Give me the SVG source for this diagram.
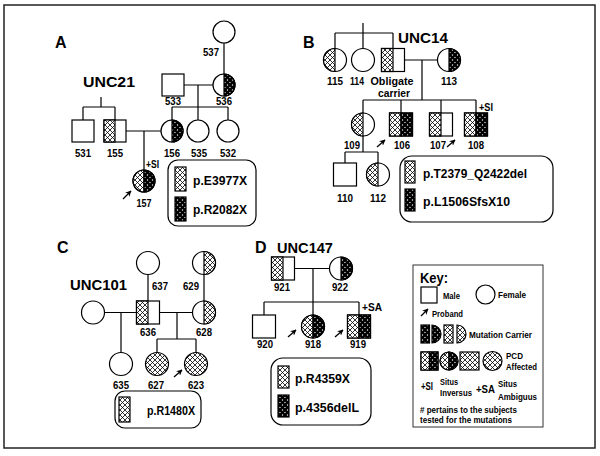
<svg xmlns="http://www.w3.org/2000/svg" width="600" height="456" viewBox="0 0 600 456">
<defs>
<pattern id="lt" width="5" height="5" patternUnits="userSpaceOnUse">
<rect width="5" height="5" fill="#fff"/>
<path d="M-1,-1L6,6M6,-1L-1,6" stroke="#000" stroke-width="0.8"/>
</pattern>
<pattern id="dk" width="5" height="5" patternUnits="userSpaceOnUse">
<rect width="5" height="5" fill="#fff"/>
<path d="M-1,-1L6,6M6,-1L-1,6" stroke="#000" stroke-width="2.3"/>
</pattern>
<marker id="ah" viewBox="0 0 10 10" refX="9" refY="5" markerWidth="6" markerHeight="6" orient="auto" markerUnits="userSpaceOnUse">
<path d="M0,0L10,5L0,10L3,5z" fill="#000"/>
</marker>
<style>
.ln{stroke:#000;stroke-width:1.2;fill:none}
.o{fill:#fff;stroke:#000;stroke-width:1.2}
.L{fill:url(#lt);stroke:#000;stroke-width:1.2}
.D{fill:url(#dk);stroke:#000;stroke-width:1.2}
.bx{fill:none;stroke:#000;stroke-width:1.2}
.ar{stroke:#000;stroke-width:1.3;fill:none;marker-end:url(#ah)}
.t{font-family:"Liberation Sans",Arial,Helvetica,sans-serif;font-weight:bold;fill:#000}
.n{font-size:11.5px;text-anchor:middle}
.pl{font-size:16px}
.fam{font-size:15px;text-anchor:middle}
.mut{font-size:13px}
.k{font-size:9px}
</style>
</defs>
<rect x="0" y="0" width="600" height="456" fill="#fff"/>
<rect x="4" y="5" width="591" height="443" fill="none" stroke="#222" stroke-width="1.5"/>

<!-- connectors -->
<g id="connectors" class="ln">
<!-- A -->
<path d="M224,43V74M184,85H213M198,85V107M172,107H228M172,107V120M198,107V120M228,107V120"/>
<path d="M101,97V107M83,107H115M83,107V120M115,107V120M126,131H161M144,131V170"/>
<!-- B -->
<path d="M363,23V33M335,33H393M335,33V48.5M363,33V48.5M393,33V48.5M404.5,60H437.5M422,60V100M363,100H476M363,100V113M401,100V113M441,100V113M476,100V113"/>
<path d="M363,136V152M345,152H378M345,152V163M378,152V163"/>
<!-- C -->
<path d="M148,274.5V301M104.5,312.5H136.5M121,312.5V352.5M204,274.5V301M159.5,312.5H192.5M177,312.5V339M157,339H196M157,339V352.5M196,339V352.5"/>
<!-- D -->
<path d="M294.5,268.5H329.5M313,268.5V315M264,302H359M264,302V315M359,302V315"/>
</g>

<!-- proband arrows -->
<g id="probands">
<path class="ar" d="M123,199L131,191"/>
<path class="ar" d="M377,147L385,140"/>
<path class="ar" d="M447,147L455,140"/>
<path class="ar" d="M174,377L182,370"/>
<path class="ar" d="M288,337L296,330"/>
<path class="ar" d="M335,337L343,330"/>
</g>

<!-- Panel A -->
<text class="t pl" x="55" y="48">A</text>
<text class="t fam" x="109" y="87" textLength="52" lengthAdjust="spacingAndGlyphs">UNC21</text>
<g id="n537"><circle class="o" cx="224" cy="32" r="11"/><text class="t n" x="211" y="56" textLength="16" lengthAdjust="spacingAndGlyphs">537</text></g>
<g id="n536"><circle class="o" cx="224" cy="85" r="11"/><path class="D" d="M224,74A11,11 0 0,1 224,96Z"/><text class="t n" x="224" y="105" textLength="16" lengthAdjust="spacingAndGlyphs">536</text></g>
<g id="n533"><rect class="o" x="162" y="74" width="22" height="22"/><text class="t n" x="173" y="105" textLength="16" lengthAdjust="spacingAndGlyphs">533</text></g>
<g id="n531"><rect class="o" x="72" y="120" width="22" height="22"/><text class="t n" x="83" y="157" textLength="16" lengthAdjust="spacingAndGlyphs">531</text></g>
<g id="n155"><rect class="o" x="104" y="120" width="22" height="22"/><rect class="L" x="104" y="120" width="11" height="22"/><text class="t n" x="115" y="157" textLength="16" lengthAdjust="spacingAndGlyphs">155</text></g>
<g id="n156"><circle class="o" cx="172" cy="131" r="11"/><path class="D" d="M172,120A11,11 0 0,1 172,142Z"/><text class="t n" x="172" y="157" textLength="16" lengthAdjust="spacingAndGlyphs">156</text></g>
<g id="n535"><circle class="o" cx="198" cy="131" r="11"/><text class="t n" x="199" y="157" textLength="16" lengthAdjust="spacingAndGlyphs">535</text></g>
<g id="n532"><circle class="o" cx="228" cy="131" r="11"/><text class="t n" x="228" y="157" textLength="16" lengthAdjust="spacingAndGlyphs">532</text></g>
<g id="n157"><circle class="o" cx="144" cy="181" r="11"/><path class="L" d="M144,170A11,11 0 0,0 144,192Z"/><path class="D" d="M144,170A11,11 0 0,1 144,192Z"/><text class="t n" x="144" y="207" textLength="15" lengthAdjust="spacingAndGlyphs">157</text><text class="t" x="146" y="168" font-size="11" textLength="13" lengthAdjust="spacingAndGlyphs">+SI</text></g>
<g id="legendA">
<rect class="bx" x="168" y="160" width="88" height="66" rx="10"/>
<rect class="L" x="175" y="167" width="11" height="24"/>
<rect class="D" x="175" y="197" width="11" height="24"/>
<text class="t mut" x="193" y="185" textLength="54" lengthAdjust="spacingAndGlyphs">p.E3977X</text>
<text class="t mut" x="193" y="214" textLength="54" lengthAdjust="spacingAndGlyphs">p.R2082X</text>
</g>

<!-- Panel B -->
<text class="t pl" x="303" y="48">B</text>
<text class="t fam" x="423" y="43" textLength="50" lengthAdjust="spacingAndGlyphs">UNC14</text>
<g id="n115"><circle class="o" cx="335" cy="60" r="11.5"/><path class="L" d="M335,48.5A11.5,11.5 0 0,0 335,71.5Z"/><text class="t n" x="335" y="85" textLength="16" lengthAdjust="spacingAndGlyphs">115</text></g>
<g id="n114"><circle class="o" cx="363" cy="60" r="11.5"/><text class="t n" x="357" y="85" textLength="14" lengthAdjust="spacingAndGlyphs">114</text></g>
<g id="nObligate"><rect class="o" x="381.5" y="48.5" width="23" height="23"/><rect class="L" x="381.5" y="48.5" width="11.5" height="23"/><text class="t n" x="392" y="85" textLength="43" lengthAdjust="spacingAndGlyphs">Obligate</text><text class="t n" x="394" y="97" textLength="32" lengthAdjust="spacingAndGlyphs">carrier</text></g>
<g id="n113"><circle class="o" cx="449" cy="60" r="11.5"/><path class="D" d="M449,48.5A11.5,11.5 0 0,1 449,71.5Z"/><text class="t n" x="449" y="85" textLength="16" lengthAdjust="spacingAndGlyphs">113</text></g>
<g id="n109"><circle class="o" cx="363" cy="124.5" r="11.5"/><path class="L" d="M363,113A11.5,11.5 0 0,0 363,136Z"/><text class="t n" x="352" y="149" textLength="16" lengthAdjust="spacingAndGlyphs">109</text></g>
<g id="n106"><rect class="o" x="389.5" y="113" width="23" height="23"/><rect class="L" x="389.5" y="113" width="11.5" height="23"/><rect class="D" x="401" y="113" width="11.5" height="23"/><text class="t n" x="402" y="149" textLength="16" lengthAdjust="spacingAndGlyphs">106</text></g>
<g id="n107"><rect class="o" x="429.5" y="113" width="23" height="23"/><rect class="L" x="429.5" y="113" width="11.5" height="23"/><text class="t n" x="438" y="149" textLength="16" lengthAdjust="spacingAndGlyphs">107</text></g>
<g id="n108"><rect class="o" x="464.5" y="113" width="23" height="23"/><rect class="L" x="464.5" y="113" width="11.5" height="23"/><rect class="D" x="476" y="113" width="11.5" height="23"/><text class="t n" x="476" y="149" textLength="16" lengthAdjust="spacingAndGlyphs">108</text><text class="t" x="479" y="111" font-size="11" textLength="14" lengthAdjust="spacingAndGlyphs">+SI</text></g>
<g id="n110"><rect class="o" x="333.5" y="163" width="23" height="23"/><text class="t n" x="345" y="202" textLength="16" lengthAdjust="spacingAndGlyphs">110</text></g>
<g id="n112"><circle class="o" cx="378" cy="174.5" r="11.5"/><path class="L" d="M378,163A11.5,11.5 0 0,0 378,186Z"/><text class="t n" x="378" y="202" textLength="16" lengthAdjust="spacingAndGlyphs">112</text></g>
<g id="legendB">
<rect class="bx" x="400" y="156" width="153" height="66" rx="12"/>
<rect class="L" x="405" y="161" width="10" height="22"/>
<rect class="D" x="405" y="189" width="10" height="22"/>
<text class="t mut" x="423" y="178" textLength="104" lengthAdjust="spacingAndGlyphs">p.T2379_Q2422del</text>
<text class="t mut" x="423" y="206" textLength="87" lengthAdjust="spacingAndGlyphs">p.L1506SfsX10</text>
</g>

<!-- Panel C -->
<text class="t pl" x="57" y="253">C</text>
<text class="t fam" x="98.5" y="290" textLength="57" lengthAdjust="spacingAndGlyphs">UNC101</text>
<g id="n637"><circle class="o" cx="148" cy="263" r="11.5"/><text class="t n" x="160" y="290" textLength="16" lengthAdjust="spacingAndGlyphs">637</text></g>
<g id="nC_spouse"><circle class="o" cx="93" cy="312.5" r="11.5"/></g>
<g id="n636"><rect class="o" x="136.5" y="301" width="23" height="23"/><rect class="L" x="136.5" y="301" width="11.5" height="23"/><text class="t n" x="148" y="336" textLength="16" lengthAdjust="spacingAndGlyphs">636</text></g>
<g id="n635"><circle class="o" cx="121" cy="364" r="11.5"/><text class="t n" x="121" y="389" textLength="16" lengthAdjust="spacingAndGlyphs">635</text></g>
<g id="n629"><circle class="o" cx="204" cy="263" r="11.5"/><path class="L" d="M204,251.5A11.5,11.5 0 0,1 204,274.5Z"/><text class="t n" x="191" y="290" textLength="16" lengthAdjust="spacingAndGlyphs">629</text></g>
<g id="n628"><circle class="o" cx="204" cy="312.5" r="11.5"/><path class="L" d="M204,301A11.5,11.5 0 0,1 204,324Z"/><text class="t n" x="204" y="336" textLength="16" lengthAdjust="spacingAndGlyphs">628</text></g>
<g id="n627"><circle class="L" cx="157" cy="364" r="11.5"/><text class="t n" x="156" y="389" textLength="16" lengthAdjust="spacingAndGlyphs">627</text></g>
<g id="n623"><circle class="L" cx="196" cy="364" r="11.5"/><text class="t n" x="196" y="389" textLength="16" lengthAdjust="spacingAndGlyphs">623</text></g>
<g id="legendC">
<rect class="bx" x="115" y="391" width="86" height="37" rx="10"/>
<rect class="L" x="119" y="397" width="11" height="25"/>
<text class="t mut" x="147" y="415" textLength="48" lengthAdjust="spacingAndGlyphs">p.R1480X</text>
</g>

<!-- Panel D -->
<text class="t pl" x="255" y="253">D</text>
<text class="t" x="277" y="253" font-size="15" textLength="56" lengthAdjust="spacingAndGlyphs">UNC147</text>
<g id="n921"><rect class="o" x="271.5" y="257" width="23" height="23"/><rect class="L" x="271.5" y="257" width="11.5" height="23"/><text class="t n" x="282" y="291" textLength="16" lengthAdjust="spacingAndGlyphs">921</text></g>
<g id="n922"><circle class="o" cx="341" cy="268.5" r="11.5"/><path class="D" d="M341,257A11.5,11.5 0 0,1 341,280Z"/><text class="t n" x="340" y="291" textLength="16" lengthAdjust="spacingAndGlyphs">922</text></g>
<g id="n920"><rect class="o" x="252.5" y="315" width="23" height="23"/><text class="t n" x="265" y="348" textLength="16" lengthAdjust="spacingAndGlyphs">920</text></g>
<g id="n918"><circle class="o" cx="313" cy="326.5" r="11.5"/><path class="L" d="M313,315A11.5,11.5 0 0,0 313,338Z"/><path class="D" d="M313,315A11.5,11.5 0 0,1 313,338Z"/><text class="t n" x="313" y="348" textLength="16" lengthAdjust="spacingAndGlyphs">918</text></g>
<g id="n919"><rect class="o" x="347.5" y="315" width="23" height="23"/><rect class="L" x="347.5" y="315" width="11.5" height="23"/><rect class="D" x="359" y="315" width="11.5" height="23"/><text class="t n" x="358" y="348" textLength="16" lengthAdjust="spacingAndGlyphs">919</text><text class="t" x="362" y="311" font-size="11" textLength="20" lengthAdjust="spacingAndGlyphs">+SA</text></g>
<g id="legendD">
<rect class="bx" x="271" y="358" width="100" height="67" rx="12"/>
<rect class="L" x="278" y="366" width="11" height="22"/>
<rect class="D" x="278" y="395" width="11" height="22"/>
<text class="t mut" x="295" y="383" textLength="55" lengthAdjust="spacingAndGlyphs">p.R4359X</text>
<text class="t mut" x="295" y="412" textLength="64" lengthAdjust="spacingAndGlyphs">p.4356delL</text>
</g>

<!-- Key -->
<g id="key">
<rect x="413" y="265" width="130" height="162" fill="none" stroke="#333" stroke-width="1"/>
<text class="t" x="420" y="283" font-size="14" textLength="28" lengthAdjust="spacingAndGlyphs">Key:</text>
<rect class="o" x="421" y="287" width="16" height="16"/>
<text class="t k" x="443" y="299" textLength="17" lengthAdjust="spacingAndGlyphs">Male</text>
<circle class="o" cx="485.5" cy="294.5" r="9.5"/>
<text class="t k" x="498" y="298" textLength="28" lengthAdjust="spacingAndGlyphs">Female</text>
<path class="ar" d="M421,316L428,309"/>
<text class="t k" x="432" y="317" textLength="31" lengthAdjust="spacingAndGlyphs">Proband</text>
<rect class="D" x="421" y="325" width="8.5" height="18"/>
<path class="D" d="M432,325A9,9 0 0,1 432,343Z"/>
<rect class="L" x="444" y="325" width="9" height="18"/>
<path class="L" d="M457,325A9,9 0 0,1 457,343Z"/>
<text class="t k" x="469" y="338" textLength="63" lengthAdjust="spacingAndGlyphs">Mutation Carrier</text>
<rect class="o" x="421" y="352" width="17" height="18"/>
<rect class="L" x="421" y="352" width="8.5" height="18"/>
<rect class="D" x="429.5" y="352" width="8.5" height="18"/>
<circle class="o" cx="449" cy="361" r="9"/>
<path class="L" d="M449,352A9,9 0 0,0 449,370Z"/>
<path class="D" d="M449,352A9,9 0 0,1 449,370Z"/>
<rect class="L" x="460" y="352" width="19" height="18"/>
<circle class="L" cx="492.5" cy="361" r="9.5"/>
<text class="t k" x="506" y="359" textLength="17" lengthAdjust="spacingAndGlyphs">PCD</text>
<text class="t k" x="506" y="370" textLength="31" lengthAdjust="spacingAndGlyphs">Affected</text>
<text class="t" x="421" y="390" font-size="10" textLength="12" lengthAdjust="spacingAndGlyphs">+SI</text>
<text class="t k" x="440" y="385" textLength="18" lengthAdjust="spacingAndGlyphs">Situs</text>
<text class="t k" x="440" y="396" textLength="32" lengthAdjust="spacingAndGlyphs">Inversus</text>
<text class="t" x="476" y="393" font-size="10" textLength="19" lengthAdjust="spacingAndGlyphs">+SA</text>
<text class="t k" x="498" y="387" textLength="19" lengthAdjust="spacingAndGlyphs">Situs</text>
<text class="t k" x="498" y="400" textLength="39" lengthAdjust="spacingAndGlyphs">Ambiguus</text>
<text class="t k" x="420" y="413" textLength="97" lengthAdjust="spacingAndGlyphs"># pertains to the subjects</text>
<text class="t k" x="420" y="423" textLength="92" lengthAdjust="spacingAndGlyphs">tested for the mutations</text>
</g>
</svg>
